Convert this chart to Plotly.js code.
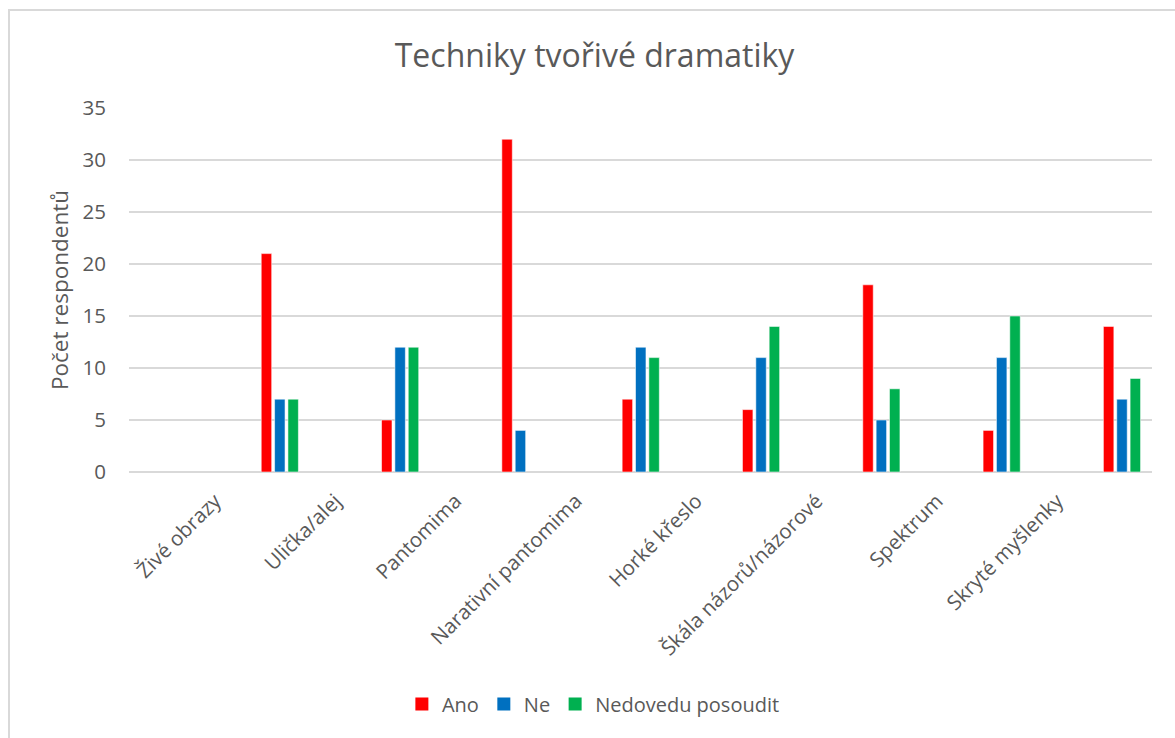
<!DOCTYPE html>
<html>
<head>
<meta charset="utf-8">
<script src="https://cdn.plot.ly/plotly-3.0.1.min.js"></script>
<style>
  html, body { margin: 0; padding: 0; background: #ffffff; overflow: hidden; }
  #frame { position: absolute; left: 8px; top: 9px; width: 1300px; height: 900px;
           border: 2px solid #d9d9d9; box-sizing: border-box; pointer-events: none; z-index: 5; }
  #chart { position: absolute; left: 0; top: 0; width: 1175px; height: 738px; }
</style>
</head>
<body>
<div id="chart"></div>
<div id="frame"></div>
<script>
// Techniky tvořivé dramatiky – počty respondentů podle techniky
const categories = [
  'Živé obrazy',
  'Ulička/alej',
  'Pantomima',
  'Narativní pantomima',
  'Horké křeslo',
  'Škála názorů/názorové',
  'Spektrum',
  'Skryté myšlenky'
];
const seriesNames = ['Ano', 'Ne', 'Nedovedu posoudit'];
const ano      = [21, 5, 32, 7, 6, 18, 4, 14];
const ne       = [7, 12, 4, 12, 11, 5, 11, 7];
const nedovedu = [7, 12, null, 11, 14, 8, 15, 9];
const colors = ['#FF0000', '#0070C0', '#00B050'];

const values = [ano, ne, nedovedu];
const barWidth = 0.087;
const barOffsets = [0.384, 0.495, 0.606];

// bars (legend entries come from the square-marker traces below)
const barTraces = values.map((v, i) => ({
  type: 'bar',
  name: seriesNames[i],
  legendgroup: seriesNames[i],
  showlegend: false,
  x: categories,
  y: v,
  width: barWidth,
  offset: barOffsets[i],
  marker: { color: colors[i], line: { color: 'rgba(255,255,255,0.55)', width: 1 } },
  hoverinfo: 'x+y+name'
}));

// square legend keys
const keyTraces = seriesNames.map((name, i) => ({
  type: 'scatter',
  mode: 'markers',
  name: name,
  legendgroup: name,
  x: [null],
  y: [null],
  marker: { symbol: 'square', size: 13, color: colors[i] },
  hoverinfo: 'skip'
}));

const textColor = '#595959';
const fontFamily = '"Open Sans", "Noto Sans", sans-serif';

const layout = {
  width: 1175,
  height: 738,
  paper_bgcolor: '#ffffff',
  plot_bgcolor: '#ffffff',
  margin: { l: 129, r: 23, t: 108, b: 266 },
  barmode: 'overlay',
  font: { family: fontFamily, color: textColor, size: 20 },
  title: {
    text: 'Techniky tvořivé dramatiky',
    font: { family: fontFamily, size: 32, color: textColor },
    xref: 'container', x: 0.506, xanchor: 'center',
    yref: 'container', y: 0.925, yanchor: 'middle'
  },
  xaxis: {
    type: 'category',
    range: [-0.715, 7.788],
    showgrid: false,
    zeroline: false,
    showline: false,
    ticks: '',
    tickangle: -45,
    tickfont: { family: fontFamily, size: 20.5, color: textColor },
    ticklabelstandoff: 12,
    fixedrange: true
  },
  yaxis: {
    range: [0, 35],
    dtick: 5,
    showgrid: true,
    gridcolor: '#d9d9d9',
    gridwidth: 1.5,
    zeroline: true,
    zerolinecolor: '#d9d9d9',
    zerolinewidth: 1.5,
    showline: false,
    ticks: '',
    tickfont: { family: fontFamily, size: 20.5, color: textColor },
    ticklabelstandoff: 22,
    title: {
      text: 'Počet respondentů',
      font: { family: fontFamily, size: 22.5, color: textColor },
      standoff: 7
    },
    fixedrange: true
  },
  showlegend: true,
  legend: {
    orientation: 'h',
    xref: 'container', x: 0.505, xanchor: 'center',
    yref: 'container', y: 0.046, yanchor: 'middle',
    font: { family: fontFamily, size: 20, color: textColor },
    itemwidth: 30,
    traceorder: 'normal',
    bgcolor: 'rgba(0,0,0,0)'
  }
};

Plotly.newPlot('chart', barTraces.concat(keyTraces), layout, { displayModeBar: false, staticPlot: true });
</script>
</body>
</html>
